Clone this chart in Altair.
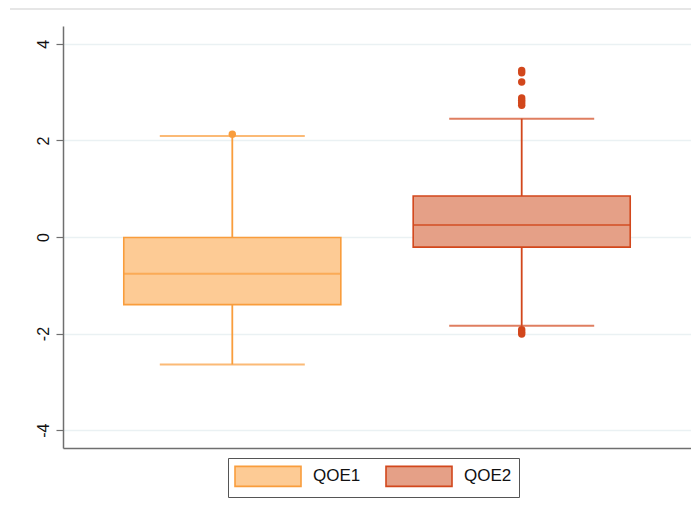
import altair as alt
import pandas as pd

# ---- data ----
groups = ["QOE1", "QOE2"]
lower_whisker = [-2.64, -1.84]
q1 = [-1.40, -0.21]
median = [-0.76, 0.25]
q3 = [-0.01, 0.85]
upper_whisker = [2.09, 2.45]

outlier_group = ["QOE1", "QOE2", "QOE2", "QOE2", "QOE2", "QOE2", "QOE2", "QOE2",
                 "QOE2", "QOE2", "QOE2"]
outlier_value = [2.13, 3.45, 3.40, 3.21, 2.88, 2.83, 2.78, 2.73, -1.92, -1.97, -2.01]

y_ticks = [-4, -2, 0, 2, 4]

fill_colors = ["#fdcb95", "#e5a087"]
stroke_colors = ["#f99d3c", "#d2471c"]

box = pd.DataFrame({"group": groups, "series": groups, "lo": lower_whisker, "q1": q1,
                    "med": median, "q3": q3, "hi": upper_whisker})
out = pd.DataFrame({"group": outlier_group, "series": outlier_group, "value": outlier_value})

yscale = alt.Scale(domain=[-4.37, 4.37], nice=False, zero=False)
xscale = alt.Scale(domain=groups, paddingInner=0.25, paddingOuter=0.21)
fill_scale = alt.Scale(domain=groups, range=fill_colors)
stroke_scale = alt.Scale(domain=groups, range=stroke_colors)

base = alt.Chart(box)

legend_def = alt.Legend(
    title=None, orient="none", legendX=165, legendY=432, direction="horizontal",
    symbolType="M-3.3,-1L3.3,-1L3.3,1L-3.3,1Z", symbolSize=400,
    symbolStrokeWidth=1.6, symbolOffset=22,
    labelFontSize=17, labelFont="Arial, Liberation Sans", labelColor="#111",
    labelOffset=34, columnPadding=21, padding=7, strokeColor="#555",
    symbolOpacity=1,
)

boxes = base.mark_bar(strokeWidth=1.6, opacity=1).encode(
    x=alt.X("group:N", scale=xscale,
            axis=alt.Axis(title=None, labels=False, ticks=False, grid=False,
                          domain=True, domainColor="#6f6f6f", domainWidth=1.5)),
    y=alt.Y("q1:Q", scale=yscale,
            axis=alt.Axis(title=None, values=y_ticks, grid=True, gridColor="#eaf1f3",
                          gridWidth=1.5, domainColor="#6f6f6f", domainWidth=1.5,
                          tickColor="#6f6f6f", tickSize=7, tickWidth=1.2,
                          labelAngle=270, labelAlign="center", labelBaseline="bottom",
                          labelFontSize=16, labelFont="Arial, Liberation Sans",
                          labelColor="#111", labelPadding=5,
                          labelExpr="datum.value + ''")),
    y2="q3:Q",
    fill=alt.Fill("series:N", scale=fill_scale, legend=legend_def),
    stroke=alt.Stroke("series:N", scale=stroke_scale, legend=legend_def),
)

whisker_lo = base.mark_rule(strokeWidth=1.8).encode(
    x=alt.X("group:N", scale=xscale),
    y=alt.Y("lo:Q", scale=yscale),
    y2="q1:Q",
    color=alt.Color("series:N", scale=stroke_scale, legend=None),
)
whisker_hi = base.mark_rule(strokeWidth=1.8).encode(
    x=alt.X("group:N", scale=xscale),
    y=alt.Y("q3:Q", scale=yscale),
    y2="hi:Q",
    color=alt.Color("series:N", scale=stroke_scale, legend=None),
)

caps_lo = base.mark_tick(size=145, thickness=2).encode(
    x=alt.X("group:N", scale=xscale),
    y=alt.Y("lo:Q", scale=yscale),
    color=alt.Color("series:N", scale=stroke_scale, legend=None),
)
caps_hi = base.mark_tick(size=145, thickness=2).encode(
    x=alt.X("group:N", scale=xscale),
    y=alt.Y("hi:Q", scale=yscale),
    color=alt.Color("series:N", scale=stroke_scale, legend=None),
)

med = base.mark_tick(size=217, thickness=2).encode(
    x=alt.X("group:N", scale=xscale),
    y=alt.Y("med:Q", scale=yscale),
    color=alt.Color("series:N", scale=stroke_scale, legend=None),
)

pts = alt.Chart(out).mark_circle(size=55, opacity=1).encode(
    x=alt.X("group:N", scale=xscale),
    y=alt.Y("value:Q", scale=yscale),
    color=alt.Color("series:N", scale=stroke_scale, legend=None),
)

frame_line = alt.Chart(box).mark_rule(color="#e4e4e4", strokeWidth=1.5).encode(
    x=alt.value(-53), x2=alt.value(636), y=alt.value(-17)
)

chart = alt.layer(boxes, frame_line, whisker_lo, whisker_hi, caps_lo, caps_hi, med,
                  pts).properties(
    width=628, height=422,
    autosize=alt.AutoSizeParams(type="none"),
    padding={"left": 55, "top": 18, "right": 0, "bottom": 52},
    background="white",
).configure_view(stroke=None)

chart.save("out.html", embed_options={"renderer": "svg", "actions": False})
